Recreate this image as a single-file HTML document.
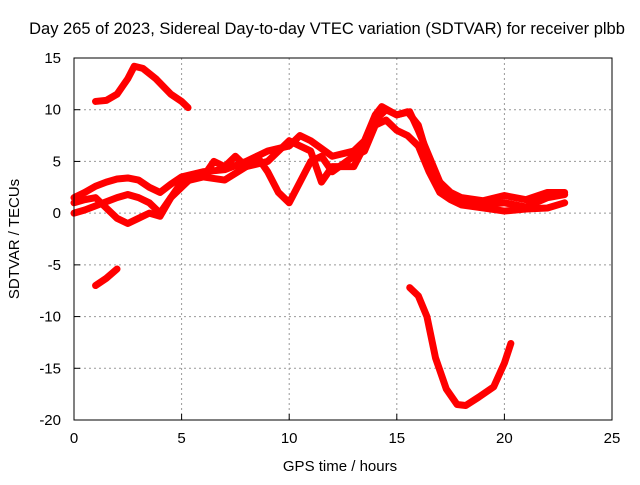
<!DOCTYPE html>
<html><head><meta charset="utf-8"><style>
body{margin:0;background:#fff}
svg text{font-family:"Liberation Sans",sans-serif;fill:#000}
</style></head><body>
<svg id="c" width="640" height="480">
<text x="327" y="34" font-size="16.5" text-anchor="middle">Day 265 of 2023, Sidereal Day-to-day VTEC variation (SDTVAR) for receiver plbb</text>
<text x="340" y="471" font-size="15" text-anchor="middle">GPS time / hours</text>
<text transform="translate(19,239) rotate(-90)" font-size="15" text-anchor="middle">SDTVAR / TECUs</text>
<g id="grid"></g><g id="series"></g>
<rect x="74" y="58" width="538" height="362" fill="none" stroke="#000" stroke-width="1"/>
</svg>
<script>
const xTicks=[0,5,10,15,20,25];
const yTicks=[15,10,5,0,-5,-10,-15,-20];
const trackA=[[1,10.8],[1.5,10.9],[2,11.5],[2.5,13],[2.8,14.2],[3.2,14],[3.8,13],[4.5,11.5],[5,10.8],[5.3,10.2]];
const trackB=[[1,-7],[1.5,-6.3],[2,-5.4]];
const trackC=[[15.6,-7.2],[16,-8],[16.4,-10],[16.8,-14],[17.3,-17],[17.8,-18.5],[18.2,-18.6],[18.8,-17.8],[19.5,-16.8],[20,-14.5],[20.3,-12.6]];
const track1=[[0,1.5],[0.5,2],[1,2.6],[1.5,3],[2,3.3],[2.5,3.4],[3,3.2],[3.5,2.5],[4,2],[4.5,2.8],[5,3.5],[6,4],[7,4.2],[8,5],[9,6],[10,6.5],[10.5,7.5],[11,7],[12,5.5],[13,6],[13.5,7],[14,9.5],[14.3,10.3],[15,9.5],[15.5,9.8],[16,8.5],[16.5,5],[17,3],[17.5,2],[18,1.5],[19,1.2],[20,1.7],[21,1.3],[22,2],[22.8,2]];
const track2=[[0,0],[0.5,0.3],[1,0.7],[1.5,1.1],[2,1.5],[2.5,1.8],[3,1.5],[3.5,1],[4,0],[4.5,1.5],[5,3],[6,3.5],[7,3.2],[8,4.5],[8.5,5.5],[9,4],[9.5,2],[10,1],[10.5,3],[11,5],[11.5,5.5],[12,4],[13,5.5],[13.5,6],[14,8.5],[14.5,9],[15,8],[15.5,7.5],[16,6.5],[16.5,4],[17,2],[17.5,1.3],[18,0.8],[19,0.5],[20,0.2],[21,0.4],[22,0.5],[22.8,1]];
const track3=[[0,1],[0.5,1.3],[1,1.5],[1.5,0.5],[2,-0.5],[2.5,-1],[3,-0.5],[3.5,0],[4,-0.3],[4.5,1.5],[5,2.5],[5.5,3.5],[6,3.5],[6.5,5],[7,4.5],[7.5,5.5],[8,4.5],[9,5],[10,7],[10.5,6.5],[11,6],[11.5,3],[12,4.5],[13,4.5],[13.5,6.5],[14,9],[14.5,10],[15,9.5],[15.6,9.8],[16,8],[16.5,5.5],[17,3],[17.5,1.8],[18,1.2],[19,0.8],[20,1],[21,0.6],[22,1.5],[22.8,1.8]];
const X=v=>74+v*538/25, Y=v=>58+(15-v)*362/35;
const NS="http://www.w3.org/2000/svg";
const grid=document.getElementById('grid'), ser=document.getElementById('series');
function mk(t,a,p){const e=document.createElementNS(NS,t);for(const k in a)e.setAttribute(k,a[k]);p.appendChild(e);return e;}
xTicks.forEach(t=>{
 if(t>0&&t<25){const l=mk('line',{x1:X(t),x2:X(t),y1:58,y2:420,stroke:'#999','stroke-dasharray':'2,3'},grid);
 
 }
 const tk=mk('line',{x1:X(t),x2:X(t),y1:420,y2:414,stroke:'#000'},grid);
 
 
 const tx=mk('text',{x:X(t),y:443,'font-size':15,'text-anchor':'middle'},grid);tx.textContent=t;
 
 
});
yTicks.forEach(t=>{
 if(t>-20&&t<15){const l=mk('line',{x1:74,x2:612,y1:Y(t),y2:Y(t),stroke:'#999','stroke-dasharray':'2,3'},grid);
 
 }
 const tk=mk('line',{x1:74,x2:80,y1:Y(t),y2:Y(t),stroke:'#000'},grid);
 
 
 const tx=mk('text',{x:61,y:Y(t)+5,'font-size':15,'text-anchor':'end'},grid);tx.textContent=t;
 
 
});
[[trackA,'track-a'],[trackB,'track-b'],[trackC,'track-c'],[track1,'track-1'],[track2,'track-2'],[track3,'track-3']].forEach(([d,n])=>{
 const p=mk('polyline',{points:d.map(q=>X(q[0])+','+Y(q[1])).join(' '),fill:'none',stroke:'#f00','stroke-width':7,'stroke-linejoin':'round','stroke-linecap':'round'},ser);
 
 
});
</script>
</body></html>
